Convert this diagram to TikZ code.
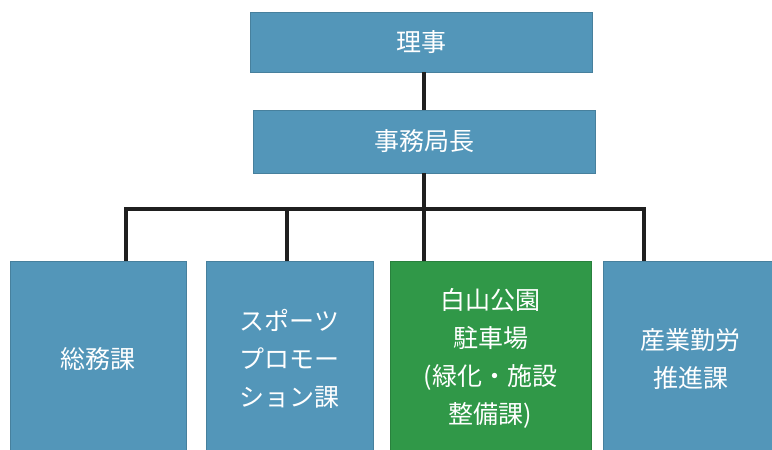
\documentclass[tikz,border=0pt]{standalone}
\usepackage{fontspec}
\setmainfont{Noto Sans CJK JP}
\definecolor{boxblue}{HTML}{5396B9}
\definecolor{boxgreen}{HTML}{309848}
\tikzset{
  office/.style={draw=boxblue!85!black, line width=0.6pt, fill=boxblue, text=white,
    align=center, inner sep=0pt, font=\fontsize{25}{38}\selectfont},
  park/.style={office, draw=boxgreen!85!black, fill=boxgreen},
  link/.style={line width=4.5pt, black!88, line join=miter}
}
\begin{document}
\begin{tikzpicture}[x=1pt, y=-1pt]
\useasboundingbox (0,0) rectangle (772,450);
% Draw boxes
\node[office, minimum width=342pt, minimum height=60pt] (riji) at (421,42) {理事};
\node[office, minimum width=342pt, minimum height=63pt] (jimu) at (424,141.5) {事務局長};
\node[office, minimum width=176pt, minimum height=195pt] (somu) at (98,358.5) {総務課};
\node[office, minimum width=167pt, minimum height=195pt] (sports) at (289.5,358.5) {スポーツ\\プロモー\\ション課};
\node[park, minimum width=201pt, minimum height=195pt] (koen) at (490.5,358.5) {白山公園\\駐車場\\(緑化・施設\\整備課)};
\node[office, minimum width=175pt, minimum height=195pt] (sangyo) at (690.5,358.5) {産業勤労\\推進課};
% Draw lines
\coordinate (d1) at (126,209);
\coordinate (d2) at (287,209);
\coordinate (d3) at (424,209);
\coordinate (d4) at (644,209);
\draw[link] (jimu.north |- riji.south) -- (jimu.north);
\draw[link] (jimu.south) -- (d3);
\draw[link] (d1 |- somu.north) -- (d1) -- (d4) -- (d4 |- sangyo.north);
\foreach \d/\b in {d2/sports, d3/koen}
    \draw[link] (\d) -- (\d |- \b.north);
\end{tikzpicture}
\end{document}
